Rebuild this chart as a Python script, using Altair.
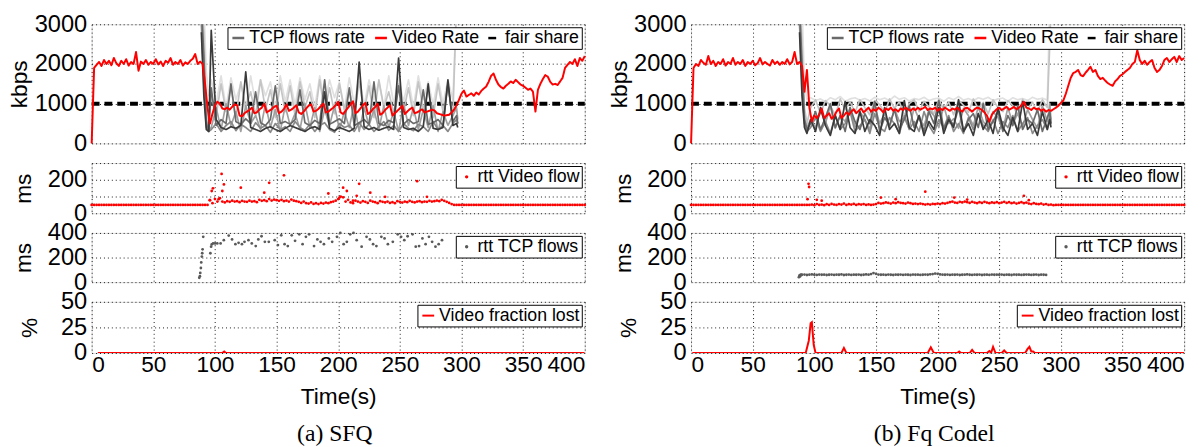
import altair as alt
import pandas as pd

# ---------------------------------------------------------------- data
T_RATE = list(range(0, 401, 2))

SFQ_VIDEO = [
    0, 1900, 1980, 2050, 1950, 2100, 2000, 2080, 1970, 2150,
    2020, 1950, 2080, 2000, 2120, 1960, 2050, 2000, 2300, 1830,
    2060, 2000, 2100, 1980, 2050, 2000, 2120, 1990, 2060, 1950,
    2080, 2030, 2150, 1980, 2050, 2000, 2100, 1960, 2040, 2000,
    2080, 2130, 2250, 2000, 2060, 2000, 1500, 900, 500, 750,
    950, 1050, 1000, 880, 860, 900, 850, 920, 980, 960,
    700, 680, 760, 800, 840, 900, 760, 780, 850, 900,
    1000, 780, 820, 860, 920, 950, 760, 800, 870, 980,
    820, 850, 900, 960, 780, 740, 800, 880, 950, 980,
    800, 820, 870, 940, 1000, 780, 800, 850, 900, 960,
    1050, 780, 740, 820, 900, 980, 1060, 760, 800, 880,
    960, 1020, 740, 780, 860, 920, 1000, 720, 760, 840,
    900, 960, 700, 760, 820, 880, 950, 740, 800, 860,
    900, 760, 780, 820, 860, 780, 800, 820, 850, 830,
    760, 740, 720, 700, 710, 720, 780, 850, 960, 1100,
    1250, 1330, 1180, 1220, 1260, 1200, 1280, 1230, 1320, 1380,
    1430, 1550, 1700, 1760, 1600, 1480, 1420, 1380, 1450, 1500,
    1560, 1520, 1600, 1540, 1480, 1450, 1400, 1350, 1380, 1300,
    800, 1350, 1500, 1620, 1720, 1680, 1550, 1480, 1500, 1470,
    1560, 1650, 1900, 1980, 2050, 2000, 2120, 1950, 2150, 2080,
    2200,
]

FQ_VIDEO = [
    0, 1900, 2000, 1950, 2100, 2030, 1980, 2200, 2000, 2080,
    1950, 2050, 2000, 2120, 1960, 2050, 2000, 2150, 1980, 2050,
    2000, 2100, 1950, 2050, 2000, 2080, 1970, 2020, 2150, 1990,
    2050, 2000, 1960, 2100, 2000, 2060, 1980, 2050, 2000, 2120,
    1990, 2050, 2300, 2000, 2050, 1950, 1300, 1850, 900, 550,
    700, 640, 720, 880, 640, 700, 760, 620, 680, 800,
    880, 640, 700, 780, 720, 800, 860, 760, 820, 880,
    780, 840, 900, 800, 860, 820, 900, 850, 780, 880,
    840, 900, 820, 860, 800, 880, 840, 900, 860, 820,
    880, 840, 900, 850, 880, 920, 840, 880, 860, 900,
    820, 880, 840, 900, 860, 820, 880, 850, 900, 840,
    800, 880, 900, 850, 800, 860, 900, 880, 840, 780,
    700, 550, 720, 800, 860, 900, 840, 880, 920, 850,
    880, 920, 860, 900, 960, 1050, 900, 880, 840, 900,
    860, 880, 820, 860, 800, 840, 820, 860, 900, 950,
    1020, 1080, 1250, 1450, 1650, 1770, 1800, 1850, 1720, 1690,
    1780, 1850, 1930, 1800, 1850, 1700, 1620, 1650, 1580, 1520,
    1480, 1450, 1560, 1620, 1700, 1740, 1800, 1850, 1900, 2000,
    2050, 2350, 2100, 2000, 2080, 1980, 2050, 2100, 1900, 1800,
    1850, 1950, 2100, 2150, 2050, 2120, 2180, 2050, 2200, 2100,
    2150,
]

FAIR_T = [0, 400]
FAIR_V = [1000, 1000]

SFQ_TCP_T = [89, 91, 93, 95] + list(range(97, 294, 4)) + [296, 297]
SFQ_TCP5 = [3500, 3500, 1800, 1200,
            1600, 1000, 1700, 900, 1650, 1100, 1500, 850, 1700, 1000,
            1600, 1200, 1550, 900, 1700, 1050, 1600, 950, 1650, 1100,
            1500, 900, 1700, 1000, 1600, 1150, 1550, 850, 1650, 1000,
            1700, 950, 1600, 1100, 1550, 900, 1700, 1000, 1650, 1050,
            1600, 900, 1700, 1100, 1550, 950, 1650, 1000, 1600, 1100,
            3500, 3500]
SFQ_TCP4 = [3500, 2800, 900, 500,
            1200, 700, 1500, 800, 1400, 650, 1550, 900, 1300, 700,
            1600, 850, 1350, 650, 1500, 800, 1450, 700, 1550, 900,
            1300, 650, 1600, 800, 1400, 750, 1500, 850, 1350, 700,
            1550, 800, 1450, 650, 1600, 900, 1300, 750, 1500, 800,
            1400, 700, 1550, 850, 1350, 650, 1500, 800, 1450, 700,
            3500, 3500]
SFQ_TCP3 = [3200, 2000, 600, 350,
            400, 900, 350, 1000, 450, 800, 300, 950, 500, 700,
            350, 1000, 400, 850, 300, 950, 450, 750, 350, 1000,
            400, 900, 300, 850, 450, 950, 350, 800, 400, 1000,
            300, 900, 450, 850, 350, 950, 400, 800, 300, 1000,
            450, 900, 350, 850, 400, 950, 300, 800, 450, 700,
            900, 600]
SFQ_TCP6 = [3000, 1500, 400, 300,
            350, 500, 300, 450, 550, 320, 480, 400, 300, 520,
            380, 450, 280, 500, 350, 420, 300, 550, 400, 330,
            480, 300, 450, 520, 350, 280, 500, 400, 450, 300,
            520, 350, 480, 300, 420, 550, 330, 450, 300, 500,
            380, 320, 480, 420, 300, 550, 350, 450, 300, 500,
            600, 500]
SFQ_TCP2 = [3500, 2200, 500, 300,
            1400, 450, 600, 500, 1500, 550, 480, 620, 500, 1300,
            520, 450, 600, 1450, 500, 550, 480, 600, 1350, 520,
            450, 580, 500, 1600, 480, 550, 620, 500, 1400, 450,
            520, 600, 480, 1550, 500, 450, 580, 520, 1450, 480,
            600, 500, 550, 1350, 480, 520, 600, 450, 1500, 550,
            700, 500]
SFQ_TCP1 = [2800, 1200, 350, 300,
            2850, 600, 400, 350, 420, 380, 450, 1800, 400, 350,
            300, 380, 420, 350, 300, 380, 450, 400, 350, 300,
            380, 420, 350, 1300, 380, 320, 400, 350, 300, 380,
            2050, 420, 350, 400, 330, 380, 420, 350, 2150, 400,
            350, 380, 300, 420, 1500, 380, 350, 400, 1600, 450,
            500, 400]

FQ_TCP_T = [88, 90, 92, 94] + list(range(97, 290, 4)) + [291, 292]
FQ_TCP5 = [3500, 3500, 1500, 1100,
           1150, 1080, 1120, 1050, 1150, 1100, 1180, 1060, 1120, 1150,
           1090, 1130, 1070, 1160, 1100, 1140, 1080, 1190, 1110, 1150,
           1070, 1130, 1100, 1160, 1080, 1120, 1140, 1060, 1150, 1100,
           1180, 1090, 1130, 1070, 1150, 1110, 1160, 1080, 1120, 1140,
           1060, 1150, 1100, 1130, 1080, 1160, 1110, 1140, 1090,
           3500, 3500]
FQ_TCP4 = [3500, 2600, 900, 500,
           900, 1100, 750, 1080, 950, 700, 1120, 850, 1050, 780,
           1100, 900, 720, 1080, 980, 760, 1120, 880, 1050, 700,
           1000, 1100, 800, 1060, 920, 750, 1110, 850, 1040, 720,
           1090, 960, 780, 1120, 870, 1030, 740, 1100, 900, 800,
           1080, 950, 720, 1110, 860, 1040, 780, 1100, 900,
           2500, 3500]
FQ_TCP3 = [3200, 1800, 600, 400,
           600, 400, 850, 500, 950, 380, 700, 550, 900, 420,
           800, 600, 350, 950, 500, 750, 400, 880, 550, 650,
           380, 900, 600, 450, 850, 700, 400, 950, 500, 620,
           380, 880, 700, 450, 920, 550, 400, 800, 650, 350,
           900, 500, 750, 420, 850, 600, 380, 950, 550,
           1000, 600]
FQ_TCP6 = [3000, 1500, 500, 300,
           400, 650, 300, 550, 250, 700, 350, 500, 800, 300,
           450, 600, 250, 750, 400, 300, 650, 500, 250, 700,
           350, 550, 300, 800, 450, 250, 600, 400, 700, 300,
           500, 250, 650, 350, 750, 450, 300, 600, 250, 550,
           400, 700, 300, 500, 650, 250, 450, 600, 350,
           700, 500]
FQ_TCP2 = [3500, 2000, 600, 350,
           500, 800, 350, 650, 1000, 400, 700, 300, 900, 550,
           350, 750, 500, 1050, 300, 650, 450, 850, 350, 600,
           950, 400, 700, 300, 800, 500, 1080, 350, 650, 450,
           900, 300, 600, 750, 400, 1000, 350, 550, 800, 300,
           700, 450, 950, 350, 600, 500, 850, 300, 650,
           800, 500]
FQ_TCP1 = [2800, 1200, 400, 250,
           600, 300, 900, 450, 200, 700, 350, 1050, 400, 250,
           800, 300, 600, 450, 200, 900, 350, 500, 250, 1080,
           400, 300, 700, 200, 550, 350, 900, 250, 600, 400,
           1100, 300, 500, 200, 750, 350, 600, 250, 900, 400,
           200, 650, 300, 1050, 350, 500, 200, 800, 350,
           600, 400]

# rtt of the video flow (ms)
BASE_T_A = list(range(0, 95, 2))
BASE_T_B = list(range(296, 401, 2))
CLOUD_T = list(range(96, 295, 2))
SFQ_BASE_A = [50, 50, 50, 50, 50, 50, 50, 50, 50, 50, 50, 50, 50, 50, 50, 50,
              50, 50, 50, 50, 50, 50, 50, 50, 50, 50, 50, 50, 50, 50, 50, 50,
              50, 50, 50, 50, 50, 50, 50, 50, 50, 50, 50, 50, 50, 50, 50, 50]
SFQ_BASE_B = [50, 50, 50, 50, 50, 50, 50, 50, 50, 50, 50, 50, 50, 50, 50, 50,
              50, 50, 50, 50, 50, 50, 50, 50, 50, 50, 50, 50, 50, 50, 50, 50,
              50, 50, 50, 50, 50, 50, 50, 50, 50, 50, 50, 50, 50, 50, 50, 50,
              50, 50, 50, 50, 50]
SFQ_CLOUD = [
    78, 60, 85, 70, 90, 70, 65, 72, 68, 75,
    70, 72, 66, 74, 70, 68, 75, 70, 72, 66,
    80, 74, 78, 72, 85, 76, 82, 78, 74, 80,
    72, 76, 70, 82, 75, 72, 68, 62, 70, 60,
    58, 65, 56, 60, 55, 62, 58, 64, 60, 66,
    70, 75, 85, 100, 95, 70, 80, 65, 60, 75,
    70, 64, 72, 68, 62, 75, 70, 66, 60, 72,
    68, 65, 70, 62, 66, 60, 72, 68, 64, 70,
    66, 74, 68, 65, 70, 72, 66, 70, 68, 74,
    70, 72, 76, 72, 80, 74, 68, 62, 55, 50,
]
SFQ_OUT_T = [95.8, 97.4, 98.4, 103, 105.4, 106, 107.3, 121, 140, 144, 156,
             192, 201, 204, 207, 212, 215, 217, 226, 238, 264, 272]
SFQ_OUT_V = [78, 133, 149, 84, 235, 133, 172, 153, 123, 182, 227,
             118, 94, 153, 133, 75, 104, 176, 123, 98, 192, 98]
FQ_BASE_A = SFQ_BASE_A
FQ_BASE_B = SFQ_BASE_B
FQ_CLOUD = [
    50, 52, 48, 55, 50, 52, 48, 54, 50, 56,
    52, 50, 55, 52, 58, 50, 54, 52, 56, 50,
    54, 52, 55, 50, 53, 50, 52, 55, 62, 58,
    60, 65, 62, 58, 64, 60, 66, 62, 60, 58,
    64, 60, 56, 58, 55, 58, 55, 52, 55, 52,
    56, 54, 58, 55, 60, 58, 62, 66, 70, 64,
    62, 68, 65, 70, 66, 62, 68, 64, 60, 66,
    62, 68, 64, 60, 65, 62, 66, 60, 64, 68,
    62, 66, 60, 64, 58, 62, 66, 60, 64, 58,
    55, 60, 56, 54, 58, 52, 55, 50, 52, 48,
]
FQ_OUT_T = [94.5, 95.3, 95.8, 102, 106, 154, 166, 190, 213.5, 224, 270, 274]
FQ_OUT_V = [84, 176, 157, 80, 75, 94, 84, 129, 94, 82, 104, 78]

# rtt of the TCP flows (ms)
SFQ_RTT_TCP_T = [87.3, 87.8, 88.1, 88.6, 88.9, 89.4, 89.7, 90.0, 90.5, 96.3, 96.9, 97.4,
                 98.5, 100.1, 101.9, 104.6, 107.2, 111.2, 113.9, 116.6, 119.2, 121.9,
                 124.0, 127.2, 129.9, 133.1, 135.2, 137.8, 140.5, 143.7, 148.5, 151.1,
                 153.8, 156.5, 159.1, 162.3, 165.0, 168.4, 171.1, 173.8, 176.4, 180.4,
                 183.1, 185.7, 188.4, 192.4, 195.1, 199.0, 201.7, 204.4, 207.0, 209.7,
                 212.4, 215.0, 219.0, 223.0, 225.7, 228.3, 231.0, 235.0, 237.6, 240.3,
                 244.3, 248.3, 251.0, 253.6, 256.3, 260.3, 262.9, 265.6, 268.3, 270.9,
                 273.6, 276.2, 278.9, 281.5, 284.2]
SFQ_RTT_TCP_V = [35, 48, 75, 115, 160, 208, 235, 267, 368, 235, 288, 307,
                 315, 315, 315, 315, 341, 379, 347, 309, 320, 309,
                 328, 341, 315, 293, 347, 373, 328, 328, 341, 301,
                 381, 309, 293, 381, 336, 389, 309, 368, 389, 293,
                 347, 328, 309, 355, 328, 368, 400, 309, 328, 389,
                 400, 341, 288, 368, 347, 309, 293, 368, 355, 309,
                 328, 389, 368, 341, 373, 389, 288, 293, 355, 309,
                 368, 328, 288, 309, 341]
FQ_RTT_TCP_T = [87.5, 88, 88.5, 89] + list(range(90, 289, 2))
FQ_RTT_TCP_V = [40, 55, 48, 62,
                60, 62, 58, 61, 63, 60, 59, 62, 60, 61,
                58, 60, 62, 59, 61, 60, 63, 58, 60, 62,
                59, 61, 60, 62, 58, 60, 63, 61, 66, 74,
                68, 62, 60, 61, 59, 62, 60, 58, 61, 60,
                62, 59, 61, 60, 58, 62, 60, 61, 59, 60,
                62, 60, 64, 66, 70, 68, 63, 61, 60, 62,
                59, 61, 60, 62, 58, 60, 61, 63, 60, 59,
                61, 60, 62, 58, 60, 61, 59, 62, 60, 61,
                60, 62, 59, 61, 60, 58, 62, 60, 61, 59,
                60, 62, 61, 59, 60, 62, 58, 61, 60, 59]

# video fraction lost (%)
SFQ_LOSS_T = [5, 106, 107.5, 109, 400]
SFQ_LOSS_V = [0, 0, 1.5, 0, 0]
FQ_LOSS_T = [1, 93, 95.5, 97, 98, 99.5, 101, 122, 124, 126, 192, 194.5, 197,
             216, 217.5, 219, 226, 228, 230, 240, 242, 243.5, 245, 247,
             252, 254, 256, 271, 273, 274.5, 276, 277.5, 279, 400]
FQ_LOSS_V = [0, 0, 12, 29, 30, 8, 0, 0, 5, 0, 0, 5.5, 0,
             0, 1.5, 0, 0, 3, 0, 0, 2, 0.5, 6, 0,
             0, 2.5, 0, 0, 4, 6, 1.5, 1.5, 0, 0]

X_TICKS = [0, 50, 100, 150, 200, 250, 300, 350, 400]

# ---------------------------------------------------------------- style
FONT = "Liberation Sans"
W = 501
GRID = dict(grid=True, gridColor="black", gridDash=[1, 3], gridOpacity=0.9, gridWidth=1)


def frame(t, v, s):
    return pd.DataFrame({"t": t, "v": v, "s": [s] * len(t)})


def x_enc(show):
    if show:
        ax = alt.Axis(values=X_TICKS, labelFontSize=23, labelFont=FONT, labelColor="black",
                      labelFlush=True, labelOverlap=False, labelPadding=1,
                      title="Time(s)", titleFontSize=23, titleFont=FONT,
                      titleFontWeight="normal", titleColor="black", titlePadding=9,
                      ticks=False, domain=False, **GRID)
    else:
        ax = alt.Axis(values=X_TICKS, labels=False, ticks=False, domain=False, title=None, **GRID)
    return alt.X("t:Q", scale=alt.Scale(domain=[0, 400], nice=False, zero=False), axis=ax)


def y_enc(title, dom, vals, title_x, label_expr=None):
    kw = {}
    if label_expr:
        kw["labelExpr"] = label_expr
    ax = alt.Axis(values=vals, format="d", labelFontSize=24, labelFont=FONT, labelColor="black",
                  labelFlush=False, labelOverlap=False, labelPadding=5,
                  title=title, titleFontSize=23, titleFont=FONT, titleFontWeight="normal",
                  titleColor="black", titleX=title_x, titleBaseline="alphabetic",
                  ticks=False, domain=False, **GRID, **kw)
    return alt.Y("v:Q", scale=alt.Scale(domain=dom, nice=False, zero=False), axis=ax)


def legend(values, symbol, size, stroke_w):
    return alt.Legend(values=values, orient="top-right", direction="horizontal", title=None,
                      strokeColor="black", fillColor="white", padding=2, offset=3,
                      cornerRadius=0, labelFontSize=18, labelFont=FONT, labelColor="black",
                      labelOffset=2, columnPadding=4, symbolType=symbol,
                      symbolSize=size, symbolStrokeWidth=stroke_w)


def rate_panel(video, tcp_t, flows, title_x):
    names = ["TCP flows rate", "Video Rate", "fair share", "tcp1", "tcp3", "tcp4", "tcp5", "tcp6"]
    colors = ["#6a6a6a", "#ff0000", "#000000", "#3a3a3a", "#a0a0a0", "#c4c4c4", "#e0e0e0", "#888888"]
    dashes = [[1, 0], [1, 0], [8, 5], [1, 0], [1, 0], [1, 0], [1, 0], [1, 0]]
    leg = legend(["TCP flows rate", "Video Rate", "fair share"], "stroke", 144, 2.5)
    enc = dict(
        x=x_enc(False),
        y=y_enc("kbps", [0, 3000], [0, 1000, 2000, 3000], title_x),
        color=alt.Color("s:N", scale=alt.Scale(domain=names, range=colors), legend=leg),
        strokeDash=alt.StrokeDash("s:N", scale=alt.Scale(domain=names, range=dashes), legend=leg),
    )
    tcp_df = pd.concat([frame(tcp_t, flows[k], k)
                        for k in ["tcp5", "tcp4", "tcp3", "tcp6", "TCP flows rate", "tcp1"]])
    fair = alt.Chart(frame(FAIR_T, FAIR_V, "fair share")).mark_line(
        strokeWidth=4, strokeCap="butt").encode(**enc)
    tcp = alt.Chart(tcp_df).mark_line(clip=True, strokeJoin="round", strokeWidth=1.7).encode(**enc)
    vid = alt.Chart(frame(T_RATE, video, "Video Rate")).mark_line(
        strokeJoin="round", strokeWidth=2).encode(**enc)
    return alt.layer(fair, tcp, vid).properties(width=W, height=121)


def dot_panel(t, v, name, color, dom, vals, label_expr, title_x, height):
    leg = legend([name], "circle", 12, 0)
    return alt.Chart(frame(t, v, name)).mark_circle(size=8, opacity=1).encode(
        x=x_enc(False),
        y=y_enc("ms", dom, vals, title_x, label_expr),
        color=alt.Color("s:N", scale=alt.Scale(domain=[name], range=[color]), legend=leg),
    ).properties(width=W, height=height)


def loss_panel(t, v, title_x):
    name = "Video fraction lost"
    leg = legend([name], "stroke", 144, 2)
    return alt.Chart(frame(t, v, name)).mark_line(strokeWidth=2, clip=True).encode(
        x=x_enc(True),
        y=y_enc("%", [0, 50], [0, 25, 50], title_x),
        color=alt.Color("s:N", scale=alt.Scale(domain=[name], range=["#ff0000"]), legend=leg),
    ).properties(width=W, height=52)


def column(video, tcp_t, flows, base_a, cloud, base_b, out_t, out_v,
           rtt_tcp_t, rtt_tcp_v, loss_t, loss_v, caption):
    rtt_t = BASE_T_A + CLOUD_T + BASE_T_B + out_t
    rtt_v = base_a + cloud + base_b + out_v
    p1 = rate_panel(video, tcp_t, flows, -66)
    p2 = dot_panel(rtt_t, rtt_v, "rtt Video flow", "#ff0000", [0, 300], [0, 100, 200, 300],
                   "datum.value == 100 || datum.value == 300 ? '' : datum.label", -62, 51)
    p3 = dot_panel(rtt_tcp_t, rtt_tcp_v, "rtt TCP flows", "#5a5a5a", [0, 400], [0, 200, 400],
                   None, -62, 50)
    p4 = loss_panel(loss_t, loss_v, -56)
    return alt.vconcat(
        p1, p2, p3, p4, spacing=20, bounds="flush",
        title=alt.TitleParams(caption, orient="bottom", anchor="middle", frame="group",
                              font="Liberation Serif", fontSize=24, fontWeight="normal",
                              color="black", offset=10, dx=247, dy=4),
    ).resolve_scale(y="independent", color="independent", strokeDash="independent")


sfq_flows = {"tcp5": SFQ_TCP5, "tcp4": SFQ_TCP4, "tcp3": SFQ_TCP3, "tcp6": SFQ_TCP6,
             "TCP flows rate": SFQ_TCP2, "tcp1": SFQ_TCP1}
fq_flows = {"tcp5": FQ_TCP5, "tcp4": FQ_TCP4, "tcp3": FQ_TCP3, "tcp6": FQ_TCP6,
            "TCP flows rate": FQ_TCP2, "tcp1": FQ_TCP1}

left = column(SFQ_VIDEO, SFQ_TCP_T, sfq_flows, SFQ_BASE_A, SFQ_CLOUD, SFQ_BASE_B,
              SFQ_OUT_T, SFQ_OUT_V, SFQ_RTT_TCP_T, SFQ_RTT_TCP_V, SFQ_LOSS_T, SFQ_LOSS_V,
              "(a) SFQ")
right = column(FQ_VIDEO, FQ_TCP_T, fq_flows, FQ_BASE_A, FQ_CLOUD, FQ_BASE_B,
               FQ_OUT_T, FQ_OUT_V, FQ_RTT_TCP_T, FQ_RTT_TCP_V, FQ_LOSS_T, FQ_LOSS_V,
               "(b) Fq Codel")

chart = alt.hconcat(left, right, spacing=14, padding=0).resolve_scale(
    y="independent", color="independent", strokeDash="independent"
).configure_view(stroke="black", strokeWidth=1, fill="white").configure(background="white")

chart.save("out.html", embed_options={"renderer": "svg", "actions": False})
